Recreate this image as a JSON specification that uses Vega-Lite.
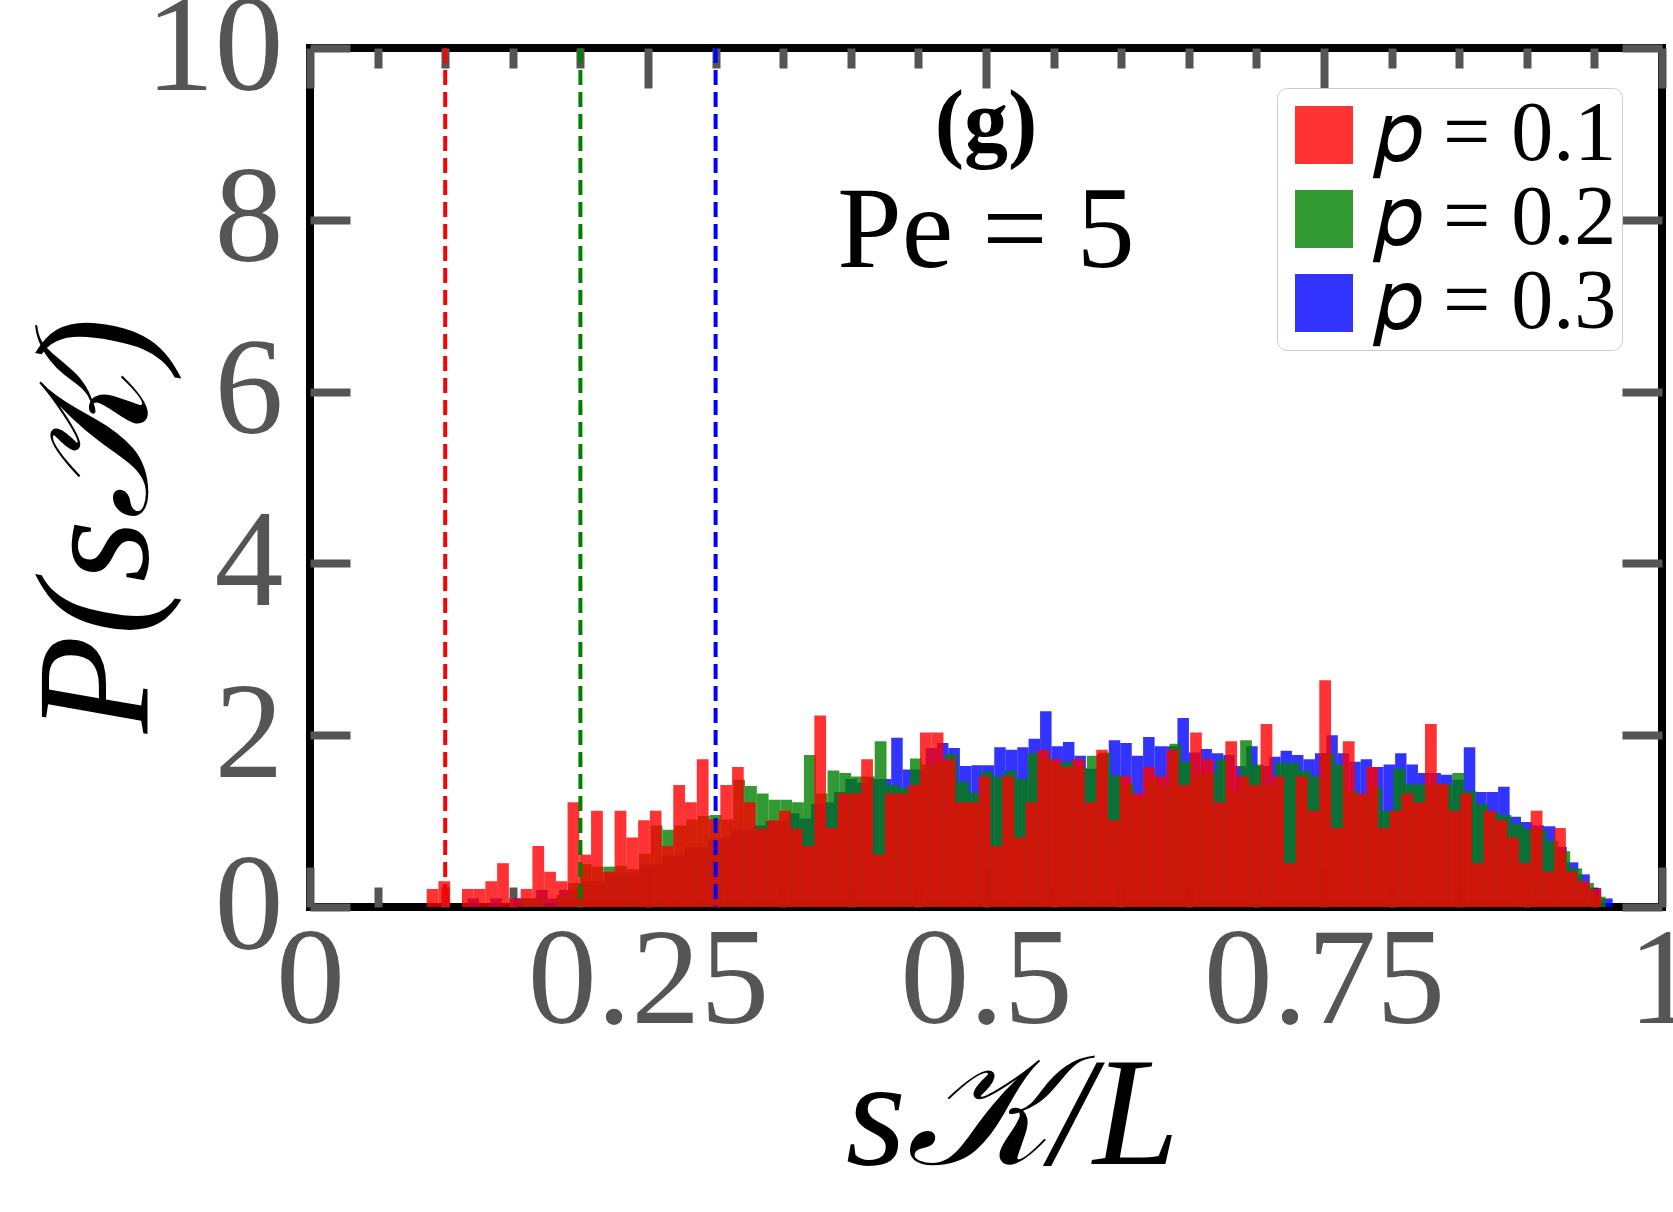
{
  "$schema": "https://vega.github.io/schema/vega-lite/v6.json",
  "width": 1352,
  "height": 859,
  "autosize": {"type": "none"},
  "padding": {"left": 310, "top": 48, "right": 11, "bottom": 305},
  "background": "white",
  "config": {"view": {"stroke": "black", "strokeWidth": 8}},
  "datasets": {
    "hist": [
      {"s":"p = 0.3","a":0.1165,"b":0.1250,"v":0.1},{"s":"p = 0.3","a":0.1250,"b":0.1334,"v":0},{"s":"p = 0.3","a":0.1334,"b":0.1419,"v":0.1},{"s":"p = 0.3","a":0.1419,"b":0.1504,"v":0},{"s":"p = 0.3","a":0.1504,"b":0.1589,"v":0.1},
      {"s":"p = 0.3","a":0.1589,"b":0.1673,"v":0.1},{"s":"p = 0.3","a":0.1673,"b":0.1758,"v":0.2},{"s":"p = 0.3","a":0.1758,"b":0.1843,"v":0.1},{"s":"p = 0.3","a":0.1843,"b":0.1927,"v":0.2},{"s":"p = 0.3","a":0.1927,"b":0.2012,"v":0.2},
      {"s":"p = 0.3","a":0.2012,"b":0.2097,"v":0.3},{"s":"p = 0.3","a":0.2097,"b":0.2181,"v":0.3},{"s":"p = 0.3","a":0.2181,"b":0.2266,"v":0.4},{"s":"p = 0.3","a":0.2266,"b":0.2351,"v":0.4},{"s":"p = 0.3","a":0.2351,"b":0.2436,"v":0.4},
      {"s":"p = 0.3","a":0.2436,"b":0.2520,"v":0.5},{"s":"p = 0.3","a":0.2520,"b":0.2605,"v":0.5},{"s":"p = 0.3","a":0.2605,"b":0.2690,"v":0.6},{"s":"p = 0.3","a":0.2690,"b":0.2774,"v":0.6},{"s":"p = 0.3","a":0.2774,"b":0.2859,"v":0.7},
      {"s":"p = 0.3","a":0.2859,"b":0.2944,"v":0.7},{"s":"p = 0.3","a":0.2944,"b":0.3028,"v":0.8},{"s":"p = 0.3","a":0.3028,"b":0.3113,"v":0.8},{"s":"p = 0.3","a":0.3113,"b":0.3198,"v":0.9},{"s":"p = 0.3","a":0.3198,"b":0.3283,"v":0.9},
      {"s":"p = 0.3","a":0.3283,"b":0.3367,"v":0.95},{"s":"p = 0.3","a":0.3367,"b":0.3452,"v":1.0},{"s":"p = 0.3","a":0.3452,"b":0.3537,"v":1.0},{"s":"p = 0.3","a":0.3537,"b":0.3621,"v":1.09},{"s":"p = 0.3","a":0.3621,"b":0.3706,"v":1.03},
      {"s":"p = 0.3","a":0.3706,"b":0.3791,"v":1.2},{"s":"p = 0.3","a":0.3791,"b":0.3875,"v":1.22},{"s":"p = 0.3","a":0.3875,"b":0.3960,"v":1.34},{"s":"p = 0.3","a":0.3960,"b":0.4045,"v":1.49},{"s":"p = 0.3","a":0.4045,"b":0.4130,"v":1.45},
      {"s":"p = 0.3","a":0.4130,"b":0.4214,"v":1.49},{"s":"p = 0.3","a":0.4214,"b":0.4299,"v":1.49},{"s":"p = 0.3","a":0.4299,"b":0.4384,"v":1.97},{"s":"p = 0.3","a":0.4384,"b":0.4468,"v":1.60},{"s":"p = 0.3","a":0.4468,"b":0.4553,"v":1.60},
      {"s":"p = 0.3","a":0.4553,"b":0.4638,"v":1.85},{"s":"p = 0.3","a":0.4638,"b":0.4722,"v":1.91},{"s":"p = 0.3","a":0.4722,"b":0.4807,"v":1.85},{"s":"p = 0.3","a":0.4807,"b":0.4892,"v":1.64},{"s":"p = 0.3","a":0.4892,"b":0.4977,"v":1.65},
      {"s":"p = 0.3","a":0.4977,"b":0.5061,"v":1.65},{"s":"p = 0.3","a":0.5061,"b":0.5146,"v":1.86},{"s":"p = 0.3","a":0.5146,"b":0.5231,"v":1.83},{"s":"p = 0.3","a":0.5231,"b":0.5315,"v":1.86},{"s":"p = 0.3","a":0.5315,"b":0.5400,"v":1.96},
      {"s":"p = 0.3","a":0.5400,"b":0.5485,"v":2.28},{"s":"p = 0.3","a":0.5485,"b":0.5569,"v":1.87},{"s":"p = 0.3","a":0.5569,"b":0.5654,"v":1.92},{"s":"p = 0.3","a":0.5654,"b":0.5739,"v":1.76},{"s":"p = 0.3","a":0.5739,"b":0.5824,"v":1.61},
      {"s":"p = 0.3","a":0.5824,"b":0.5908,"v":1.78},{"s":"p = 0.3","a":0.5908,"b":0.5993,"v":1.94},{"s":"p = 0.3","a":0.5993,"b":0.6078,"v":1.91},{"s":"p = 0.3","a":0.6078,"b":0.6162,"v":1.76},{"s":"p = 0.3","a":0.6162,"b":0.6247,"v":1.98},
      {"s":"p = 0.3","a":0.6247,"b":0.6332,"v":1.87},{"s":"p = 0.3","a":0.6332,"b":0.6416,"v":1.87},{"s":"p = 0.3","a":0.6416,"b":0.6501,"v":2.20},{"s":"p = 0.3","a":0.6501,"b":0.6586,"v":1.80},{"s":"p = 0.3","a":0.6586,"b":0.6671,"v":1.84},
      {"s":"p = 0.3","a":0.6671,"b":0.6755,"v":1.79},{"s":"p = 0.3","a":0.6755,"b":0.6840,"v":1.77},{"s":"p = 0.3","a":0.6840,"b":0.6925,"v":1.64},{"s":"p = 0.3","a":0.6925,"b":0.7009,"v":1.87},{"s":"p = 0.3","a":0.7009,"b":0.7094,"v":1.64},
      {"s":"p = 0.3","a":0.7094,"b":0.7179,"v":1.75},{"s":"p = 0.3","a":0.7179,"b":0.7263,"v":1.82},{"s":"p = 0.3","a":0.7263,"b":0.7348,"v":1.77},{"s":"p = 0.3","a":0.7348,"b":0.7433,"v":1.72},{"s":"p = 0.3","a":0.7433,"b":0.7518,"v":1.79},
      {"s":"p = 0.3","a":0.7518,"b":0.7602,"v":2.00},{"s":"p = 0.3","a":0.7602,"b":0.7687,"v":1.79},{"s":"p = 0.3","a":0.7687,"b":0.7772,"v":1.69},{"s":"p = 0.3","a":0.7772,"b":0.7856,"v":1.72},{"s":"p = 0.3","a":0.7856,"b":0.7941,"v":1.63},
      {"s":"p = 0.3","a":0.7941,"b":0.8026,"v":1.66},{"s":"p = 0.3","a":0.8026,"b":0.8110,"v":1.79},{"s":"p = 0.3","a":0.8110,"b":0.8195,"v":1.66},{"s":"p = 0.3","a":0.8195,"b":0.8280,"v":1.56},{"s":"p = 0.3","a":0.8280,"b":0.8365,"v":1.56},
      {"s":"p = 0.3","a":0.8365,"b":0.8449,"v":1.54},{"s":"p = 0.3","a":0.8449,"b":0.8534,"v":1.48},{"s":"p = 0.3","a":0.8534,"b":0.8619,"v":1.86},{"s":"p = 0.3","a":0.8619,"b":0.8703,"v":1.34},{"s":"p = 0.3","a":0.8703,"b":0.8788,"v":1.34},
      {"s":"p = 0.3","a":0.8788,"b":0.8873,"v":1.40},{"s":"p = 0.3","a":0.8873,"b":0.8957,"v":1.05},{"s":"p = 0.3","a":0.8957,"b":0.9042,"v":0.99},{"s":"p = 0.3","a":0.9042,"b":0.9127,"v":0.95},{"s":"p = 0.3","a":0.9127,"b":0.9212,"v":0.94},
      {"s":"p = 0.3","a":0.9212,"b":0.9296,"v":0.70},{"s":"p = 0.3","a":0.9296,"b":0.9381,"v":0.52},{"s":"p = 0.3","a":0.9381,"b":0.9466,"v":0.38},{"s":"p = 0.3","a":0.9466,"b":0.9550,"v":0.22},{"s":"p = 0.3","a":0.9550,"b":0.9635,"v":0.10},

      {"s":"p = 0.2","a":0.0863,"b":0.0950,"v":0},{"s":"p = 0.2","a":0.0950,"b":0.1037,"v":0},{"s":"p = 0.2","a":0.1037,"b":0.1125,"v":0},{"s":"p = 0.2","a":0.1125,"b":0.1212,"v":0},{"s":"p = 0.2","a":0.1212,"b":0.1299,"v":0},
      {"s":"p = 0.2","a":0.1299,"b":0.1386,"v":0},{"s":"p = 0.2","a":0.1386,"b":0.1473,"v":0},{"s":"p = 0.2","a":0.1473,"b":0.1561,"v":0},{"s":"p = 0.2","a":0.1561,"b":0.1648,"v":0.1},{"s":"p = 0.2","a":0.1648,"b":0.1735,"v":0.1},
      {"s":"p = 0.2","a":0.1735,"b":0.1822,"v":0},{"s":"p = 0.2","a":0.1822,"b":0.1909,"v":0.14},{"s":"p = 0.2","a":0.1909,"b":0.1997,"v":0.28},{"s":"p = 0.2","a":0.1997,"b":0.2084,"v":0.5},{"s":"p = 0.2","a":0.2084,"b":0.2171,"v":0.47},
      {"s":"p = 0.2","a":0.2171,"b":0.2258,"v":0.47},{"s":"p = 0.2","a":0.2258,"b":0.2345,"v":0.48},{"s":"p = 0.2","a":0.2345,"b":0.2433,"v":0.44},{"s":"p = 0.2","a":0.2433,"b":0.2520,"v":0.62},{"s":"p = 0.2","a":0.2520,"b":0.2607,"v":0.95},
      {"s":"p = 0.2","a":0.2607,"b":0.2694,"v":0.90},{"s":"p = 0.2","a":0.2694,"b":0.2781,"v":0.95},{"s":"p = 0.2","a":0.2781,"b":0.2869,"v":1.02},{"s":"p = 0.2","a":0.2869,"b":0.2956,"v":1.06},{"s":"p = 0.2","a":0.2956,"b":0.3043,"v":1.07},
      {"s":"p = 0.2","a":0.3043,"b":0.3130,"v":1.02},{"s":"p = 0.2","a":0.3130,"b":0.3217,"v":1.48},{"s":"p = 0.2","a":0.3217,"b":0.3305,"v":1.41},{"s":"p = 0.2","a":0.3305,"b":0.3392,"v":1.32},{"s":"p = 0.2","a":0.3392,"b":0.3479,"v":1.25},
      {"s":"p = 0.2","a":0.3479,"b":0.3566,"v":1.25},{"s":"p = 0.2","a":0.3566,"b":0.3653,"v":1.22},{"s":"p = 0.2","a":0.3653,"b":0.3741,"v":1.77},{"s":"p = 0.2","a":0.3741,"b":0.3828,"v":1.32},{"s":"p = 0.2","a":0.3828,"b":0.3915,"v":1.59},
      {"s":"p = 0.2","a":0.3915,"b":0.4002,"v":1.56},{"s":"p = 0.2","a":0.4002,"b":0.4089,"v":1.52},{"s":"p = 0.2","a":0.4089,"b":0.4177,"v":1.52},{"s":"p = 0.2","a":0.4177,"b":0.4264,"v":1.93},{"s":"p = 0.2","a":0.4264,"b":0.4351,"v":1.42},
      {"s":"p = 0.2","a":0.4351,"b":0.4438,"v":1.39},{"s":"p = 0.2","a":0.4438,"b":0.4525,"v":1.73},{"s":"p = 0.2","a":0.4525,"b":0.4613,"v":1.66},{"s":"p = 0.2","a":0.4613,"b":0.4700,"v":1.69},{"s":"p = 0.2","a":0.4700,"b":0.4787,"v":1.78},
      {"s":"p = 0.2","a":0.4787,"b":0.4874,"v":1.46},{"s":"p = 0.2","a":0.4874,"b":0.4961,"v":1.33},{"s":"p = 0.2","a":0.4961,"b":0.5049,"v":1.58},{"s":"p = 0.2","a":0.5049,"b":0.5136,"v":1.52},{"s":"p = 0.2","a":0.5136,"b":0.5223,"v":1.59},
      {"s":"p = 0.2","a":0.5223,"b":0.5310,"v":1.49},{"s":"p = 0.2","a":0.5310,"b":0.5397,"v":1.79},{"s":"p = 0.2","a":0.5397,"b":0.5485,"v":1.74},{"s":"p = 0.2","a":0.5485,"b":0.5572,"v":1.67},{"s":"p = 0.2","a":0.5572,"b":0.5659,"v":1.69},
      {"s":"p = 0.2","a":0.5659,"b":0.5746,"v":1.62},{"s":"p = 0.2","a":0.5746,"b":0.5833,"v":1.76},{"s":"p = 0.2","a":0.5833,"b":0.5921,"v":1.80},{"s":"p = 0.2","a":0.5921,"b":0.6008,"v":1.53},{"s":"p = 0.2","a":0.6008,"b":0.6095,"v":1.43},
      {"s":"p = 0.2","a":0.6095,"b":0.6182,"v":1.28},{"s":"p = 0.2","a":0.6182,"b":0.6269,"v":1.50},{"s":"p = 0.2","a":0.6269,"b":0.6357,"v":1.42},{"s":"p = 0.2","a":0.6357,"b":0.6444,"v":1.90},{"s":"p = 0.2","a":0.6444,"b":0.6531,"v":1.69},
      {"s":"p = 0.2","a":0.6531,"b":0.6618,"v":1.55},{"s":"p = 0.2","a":0.6618,"b":0.6705,"v":1.57},{"s":"p = 0.2","a":0.6705,"b":0.6793,"v":1.72},{"s":"p = 0.2","a":0.6793,"b":0.6880,"v":1.36},{"s":"p = 0.2","a":0.6880,"b":0.6967,"v":1.94},
      {"s":"p = 0.2","a":0.6967,"b":0.7054,"v":1.66},{"s":"p = 0.2","a":0.7054,"b":0.7141,"v":1.42},{"s":"p = 0.2","a":0.7141,"b":0.7229,"v":1.68},{"s":"p = 0.2","a":0.7229,"b":0.7316,"v":1.68},{"s":"p = 0.2","a":0.7316,"b":0.7403,"v":1.59},
      {"s":"p = 0.2","a":0.7403,"b":0.7490,"v":1.52},{"s":"p = 0.2","a":0.7490,"b":0.7577,"v":1.79},{"s":"p = 0.2","a":0.7577,"b":0.7665,"v":1.66},{"s":"p = 0.2","a":0.7665,"b":0.7752,"v":1.35},{"s":"p = 0.2","a":0.7752,"b":0.7839,"v":1.30},
      {"s":"p = 0.2","a":0.7839,"b":0.7926,"v":1.40},{"s":"p = 0.2","a":0.7926,"b":0.8013,"v":1.12},{"s":"p = 0.2","a":0.8013,"b":0.8101,"v":1.61},{"s":"p = 0.2","a":0.8101,"b":0.8188,"v":1.43},{"s":"p = 0.2","a":0.8188,"b":0.8275,"v":1.43},
      {"s":"p = 0.2","a":0.8275,"b":0.8362,"v":1.43},{"s":"p = 0.2","a":0.8362,"b":0.8449,"v":1.43},{"s":"p = 0.2","a":0.8449,"b":0.8537,"v":1.56},{"s":"p = 0.2","a":0.8537,"b":0.8624,"v":1.35},{"s":"p = 0.2","a":0.8624,"b":0.8711,"v":1.20},
      {"s":"p = 0.2","a":0.8711,"b":0.8798,"v":1.10},{"s":"p = 0.2","a":0.8798,"b":0.8885,"v":1.07},{"s":"p = 0.2","a":0.8885,"b":0.8973,"v":0.97},{"s":"p = 0.2","a":0.8973,"b":0.9060,"v":0.91},{"s":"p = 0.2","a":0.9060,"b":0.9147,"v":0.90},
      {"s":"p = 0.2","a":0.9147,"b":0.9234,"v":0.77},{"s":"p = 0.2","a":0.9234,"b":0.9321,"v":0.65},{"s":"p = 0.2","a":0.9321,"b":0.9409,"v":0.45},{"s":"p = 0.2","a":0.9409,"b":0.9496,"v":0.28},{"s":"p = 0.2","a":0.9496,"b":0.9583,"v":0.12},

      {"s":"p = 0.1","a":0.0863,"b":0.0950,"v":0.21},{"s":"p = 0.1","a":0.0950,"b":0.1037,"v":0.30},{"s":"p = 0.1","a":0.1037,"b":0.1124,"v":0},{"s":"p = 0.1","a":0.1124,"b":0.1210,"v":0.21},{"s":"p = 0.1","a":0.1210,"b":0.1297,"v":0.21},
      {"s":"p = 0.1","a":0.1297,"b":0.1384,"v":0.30},{"s":"p = 0.1","a":0.1384,"b":0.1471,"v":0.51},{"s":"p = 0.1","a":0.1471,"b":0.1558,"v":0.10},{"s":"p = 0.1","a":0.1558,"b":0.1645,"v":0.21},{"s":"p = 0.1","a":0.1645,"b":0.1732,"v":0.71},
      {"s":"p = 0.1","a":0.1732,"b":0.1819,"v":0.41},{"s":"p = 0.1","a":0.1819,"b":0.1905,"v":0.30},{"s":"p = 0.1","a":0.1905,"b":0.1992,"v":1.22},{"s":"p = 0.1","a":0.1992,"b":0.2079,"v":0.61},{"s":"p = 0.1","a":0.2079,"b":0.2166,"v":1.12},
      {"s":"p = 0.1","a":0.2166,"b":0.2253,"v":0.41},{"s":"p = 0.1","a":0.2253,"b":0.2340,"v":1.12},{"s":"p = 0.1","a":0.2340,"b":0.2427,"v":0.81},{"s":"p = 0.1","a":0.2427,"b":0.2514,"v":1.01},{"s":"p = 0.1","a":0.2514,"b":0.2600,"v":1.12},
      {"s":"p = 0.1","a":0.2600,"b":0.2687,"v":0.71},{"s":"p = 0.1","a":0.2687,"b":0.2774,"v":1.42},{"s":"p = 0.1","a":0.2774,"b":0.2861,"v":1.22},{"s":"p = 0.1","a":0.2861,"b":0.2948,"v":1.72},{"s":"p = 0.1","a":0.2948,"b":0.3035,"v":1.02},
      {"s":"p = 0.1","a":0.3035,"b":0.3122,"v":1.42},{"s":"p = 0.1","a":0.3122,"b":0.3208,"v":1.63},{"s":"p = 0.1","a":0.3208,"b":0.3295,"v":1.22},{"s":"p = 0.1","a":0.3295,"b":0.3382,"v":0.91},{"s":"p = 0.1","a":0.3382,"b":0.3469,"v":1.01},
      {"s":"p = 0.1","a":0.3469,"b":0.3556,"v":1.12},{"s":"p = 0.1","a":0.3556,"b":0.3643,"v":0.91},{"s":"p = 0.1","a":0.3643,"b":0.3730,"v":0.71},{"s":"p = 0.1","a":0.3730,"b":0.3817,"v":2.23},{"s":"p = 0.1","a":0.3817,"b":0.3903,"v":0.92},
      {"s":"p = 0.1","a":0.3903,"b":0.3990,"v":1.32},{"s":"p = 0.1","a":0.3990,"b":0.4077,"v":1.32},{"s":"p = 0.1","a":0.4077,"b":0.4164,"v":1.72},{"s":"p = 0.1","a":0.4164,"b":0.4251,"v":0.61},{"s":"p = 0.1","a":0.4251,"b":0.4338,"v":1.32},
      {"s":"p = 0.1","a":0.4338,"b":0.4425,"v":1.32},{"s":"p = 0.1","a":0.4425,"b":0.4512,"v":1.42},{"s":"p = 0.1","a":0.4512,"b":0.4598,"v":2.03},{"s":"p = 0.1","a":0.4598,"b":0.4685,"v":2.03},{"s":"p = 0.1","a":0.4685,"b":0.4772,"v":1.72},
      {"s":"p = 0.1","a":0.4772,"b":0.4859,"v":1.22},{"s":"p = 0.1","a":0.4859,"b":0.4946,"v":1.22},{"s":"p = 0.1","a":0.4946,"b":0.5033,"v":1.52},{"s":"p = 0.1","a":0.5033,"b":0.5120,"v":0.71},{"s":"p = 0.1","a":0.5120,"b":0.5207,"v":1.52},
      {"s":"p = 0.1","a":0.5207,"b":0.5293,"v":0.81},{"s":"p = 0.1","a":0.5293,"b":0.5380,"v":1.22},{"s":"p = 0.1","a":0.5380,"b":0.5467,"v":1.83},{"s":"p = 0.1","a":0.5467,"b":0.5554,"v":1.72},{"s":"p = 0.1","a":0.5554,"b":0.5641,"v":1.63},
      {"s":"p = 0.1","a":0.5641,"b":0.5728,"v":1.72},{"s":"p = 0.1","a":0.5728,"b":0.5815,"v":1.22},{"s":"p = 0.1","a":0.5815,"b":0.5901,"v":1.83},{"s":"p = 0.1","a":0.5901,"b":0.5988,"v":1.01},{"s":"p = 0.1","a":0.5988,"b":0.6075,"v":1.52},
      {"s":"p = 0.1","a":0.6075,"b":0.6162,"v":1.32},{"s":"p = 0.1","a":0.6162,"b":0.6249,"v":1.63},{"s":"p = 0.1","a":0.6249,"b":0.6336,"v":1.52},{"s":"p = 0.1","a":0.6336,"b":0.6423,"v":1.83},{"s":"p = 0.1","a":0.6423,"b":0.6510,"v":1.42},
      {"s":"p = 0.1","a":0.6510,"b":0.6596,"v":2.03},{"s":"p = 0.1","a":0.6596,"b":0.6683,"v":1.72},{"s":"p = 0.1","a":0.6683,"b":0.6770,"v":1.22},{"s":"p = 0.1","a":0.6770,"b":0.6857,"v":1.93},{"s":"p = 0.1","a":0.6857,"b":0.6944,"v":1.52},
      {"s":"p = 0.1","a":0.6944,"b":0.7031,"v":1.42},{"s":"p = 0.1","a":0.7031,"b":0.7118,"v":2.13},{"s":"p = 0.1","a":0.7118,"b":0.7204,"v":1.52},{"s":"p = 0.1","a":0.7204,"b":0.7291,"v":0.51},{"s":"p = 0.1","a":0.7291,"b":0.7378,"v":1.52},
      {"s":"p = 0.1","a":0.7378,"b":0.7465,"v":1.12},{"s":"p = 0.1","a":0.7465,"b":0.7552,"v":2.64},{"s":"p = 0.1","a":0.7552,"b":0.7639,"v":0.92},{"s":"p = 0.1","a":0.7639,"b":0.7726,"v":1.93},{"s":"p = 0.1","a":0.7726,"b":0.7813,"v":1.32},
      {"s":"p = 0.1","a":0.7813,"b":0.7899,"v":1.63},{"s":"p = 0.1","a":0.7899,"b":0.7986,"v":0.92},{"s":"p = 0.1","a":0.7986,"b":0.8073,"v":1.12},{"s":"p = 0.1","a":0.8073,"b":0.8160,"v":1.32},{"s":"p = 0.1","a":0.8160,"b":0.8247,"v":1.22},
      {"s":"p = 0.1","a":0.8247,"b":0.8334,"v":2.13},{"s":"p = 0.1","a":0.8334,"b":0.8421,"v":1.43},{"s":"p = 0.1","a":0.8421,"b":0.8508,"v":1.12},{"s":"p = 0.1","a":0.8508,"b":0.8594,"v":1.32},{"s":"p = 0.1","a":0.8594,"b":0.8681,"v":0.51},
      {"s":"p = 0.1","a":0.8681,"b":0.8768,"v":1.12},{"s":"p = 0.1","a":0.8768,"b":0.8855,"v":1.01},{"s":"p = 0.1","a":0.8855,"b":0.8942,"v":0.81},{"s":"p = 0.1","a":0.8942,"b":0.9029,"v":0.51},{"s":"p = 0.1","a":0.9029,"b":0.9116,"v":1.12},
      {"s":"p = 0.1","a":0.9116,"b":0.9203,"v":0.41},{"s":"p = 0.1","a":0.9203,"b":0.9289,"v":0.92},{"s":"p = 0.1","a":0.9289,"b":0.9376,"v":0.41},{"s":"p = 0.1","a":0.9376,"b":0.9463,"v":0.30},{"s":"p = 0.1","a":0.9463,"b":0.9550,"v":0.21}
    ],
    "lines": [
      {"s":"p = 0.1","x":0.1},
      {"s":"p = 0.2","x":0.2},
      {"s":"p = 0.3","x":0.3}
    ],
    "label": [{"x":0.5,"y":8.8,"t":"(g)"}],
    "pe": [{"x":0.5,"y":7.45,"t":"Pe = 5"}]
  },
  "layer": [
    {
      "data": {"name": "hist"},
      "mark": {"type": "bar", "opacity": 0.8},
      "encoding": {
        "x": {
          "field": "a", "type": "quantitative",
          "scale": {"domain": [0, 1], "nice": false},
          "axis": {
            "orient": "bottom",
            "values": [0,0.05,0.1,0.15,0.2,0.25,0.3,0.35,0.4,0.45,0.5,0.55,0.6,0.65,0.7,0.75,0.8,0.85,0.9,0.95,1],
            "labelExpr": "abs(datum.value*4 - round(datum.value*4)) < 0.001 ? format(datum.value, '~g') : ''",
            "tickSize": {"condition": {"test": "abs(datum.value*4 - round(datum.value*4)) < 0.001", "value": -40}, "value": -20},
            "tickWidth": 8, "tickColor": "#555555",
            "domain": false, "grid": false,
            "labelFont": "Liberation Serif", "labelFontSize": 138, "labelColor": "#555555",
            "labelPadding": 155, "labelBaseline": "alphabetic", "labelLimit": 0,
            "labelFlush": false, "labelOverlap": false, "labelBound": false,
            "title": "s𝒦/L",
            "titleFont": "Liberation Serif", "titleFontSize": 155, "titleFontWeight": "normal", "titleFontStyle": "italic", "titleColor": "black", "titleLimit": 0,
            "titleX": 702, "titleY": 256, "titleBaseline": "alphabetic", "titleAlign": "center"
          }
        },
        "x2": {"field": "b"},
        "y": {
          "field": "v", "type": "quantitative", "stack": null,
          "scale": {"domain": [0, 10], "nice": false},
          "axis": {
            "orient": "left",
            "values": [0,2,4,6,8,10],
            "tickSize": -40, "tickWidth": 8, "tickColor": "#555555",
            "domain": false, "grid": false,
            "labelFont": "Liberation Serif", "labelFontSize": 138, "labelColor": "#555555",
            "labelPadding": 67, "labelBaseline": "middle", "labelLimit": 0,
            "labelFlush": false, "labelOverlap": false, "labelBound": false,
            "title": "P(s𝒦)",
            "titleFont": "Liberation Serif", "titleFontSize": 160, "titleFontWeight": "normal", "titleFontStyle": "italic", "titleColor": "black", "titleLimit": 0,
            "titleAngle": 270, "titleX": -164, "titleY": 477, "titleBaseline": "alphabetic", "titleAlign": "center"
          }
        },
        "y2": {"datum": 0},
        "color": {
          "field": "s", "type": "nominal",
          "scale": {"domain": ["p = 0.1", "p = 0.2", "p = 0.3"], "range": ["#ff0000", "#008000", "#0000ff"]},
          "legend": {
            "orient": "none", "legendX": 967, "legendY": 40,
            "title": null,
            "labelExpr": "replace(datum.label, 'p', '𝑝')",
            "symbolType": "square", "symbolSize": 3364, "symbolOpacity": 0.8, "symbolStrokeWidth": 0,
            "labelFont": "Liberation Serif", "labelFontSize": 84, "labelColor": "black", "labelOffset": 9, "labelLimit": 0,
            "padding": 5, "rowPadding": -2,
            "fillColor": "white", "strokeColor": "#cccccc", "cornerRadius": 10
          }
        }
      }
    },
    {
      "data": {"name": "lines"},
      "mark": {"type": "rule", "strokeDash": [15, 7], "strokeWidth": 4},
      "encoding": {
        "x": {
          "field": "x", "type": "quantitative",
          "scale": {"domain": [0, 1], "nice": false},
          "axis": {
            "orient": "top",
            "values": [0,0.05,0.1,0.15,0.2,0.25,0.3,0.35,0.4,0.45,0.5,0.55,0.6,0.65,0.7,0.75,0.8,0.85,0.9,0.95,1],
            "labels": false,
            "tickSize": {"condition": {"test": "abs(datum.value*4 - round(datum.value*4)) < 0.001", "value": -40}, "value": -20},
            "tickWidth": 8, "tickColor": "#555555",
            "domain": false, "grid": false, "title": null
          }
        },
        "color": {
          "field": "s", "type": "nominal",
          "scale": {"domain": ["p = 0.1", "p = 0.2", "p = 0.3"], "range": ["#ff0000", "#008000", "#0000ff"]},
          "legend": null
        }
      }
    },
    {
      "data": {"name": "label"},
      "mark": {"type": "text", "font": "Liberation Serif", "fontWeight": "bold", "fontSize": 88, "align": "center", "baseline": "alphabetic", "color": "black"},
      "encoding": {
        "x": {"field": "x", "type": "quantitative", "scale": {"domain": [0, 1], "nice": false}, "axis": null},
        "y": {
          "field": "y", "type": "quantitative",
          "scale": {"domain": [0, 10], "nice": false},
          "axis": {
            "orient": "right",
            "values": [0,2,4,6,8,10],
            "labels": false,
            "tickSize": -40, "tickWidth": 8, "tickColor": "#555555",
            "domain": false, "grid": false, "title": null
          }
        },
        "text": {"field": "t"}
      }
    },
    {
      "data": {"name": "pe"},
      "mark": {"type": "text", "font": "Liberation Serif", "fontSize": 116, "align": "center", "baseline": "alphabetic", "color": "black"},
      "encoding": {
        "x": {"field": "x", "type": "quantitative", "scale": {"domain": [0, 1], "nice": false}, "axis": null},
        "y": {"field": "y", "type": "quantitative", "scale": {"domain": [0, 10], "nice": false}, "axis": null},
        "text": {"field": "t"}
      }
    }
  ],
  "resolve": {
    "scale": {"color": "independent"},
    "axis": {"x": "independent", "y": "independent"}
  }
}
